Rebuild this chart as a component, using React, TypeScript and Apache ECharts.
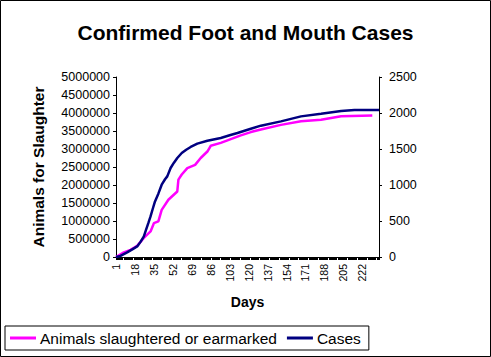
import React, { useEffect, useRef } from "react";
import * as echarts from "echarts";

const TITLE = "Confirmed Foot and Mouth Cases";
const LAST_DAY = 237;
const dayCategories: string[] = [];
for (let d = 1; d <= LAST_DAY; d++) dayCategories.push(String(d));

// Animals slaughtered or earmarked (left axis) – [day, value]
const animalDays = [1, 8, 14, 20, 26, 32, 35, 39, 42, 48, 56, 57, 60, 65, 72, 77, 83, 86, 95, 107, 113, 122, 131, 149, 167, 185, 203, 231];
const animalValues = [0, 130000, 200000, 310000, 530000, 710000, 940000, 990000, 1310000, 1590000, 1820000, 2150000, 2290000, 2470000, 2560000, 2750000, 2930000, 3090000, 3170000, 3310000, 3380000, 3470000, 3540000, 3670000, 3770000, 3810000, 3910000, 3930000];

// Confirmed cases (right axis) – [day, value]
const caseDays = [1, 5, 11, 16, 20, 23, 26, 28, 30, 32, 34, 36, 39, 42, 45, 47, 50, 53, 56, 60, 64, 68, 74, 83, 95, 103, 110, 122, 131, 149, 167, 185, 203, 215, 237];
const caseValues = [0, 15, 64, 110, 147, 210, 286, 379, 470, 564, 670, 772, 880, 1004, 1080, 1120, 1236, 1310, 1375, 1444, 1490, 1528, 1574, 1615, 1653, 1690, 1722, 1782, 1824, 1884, 1953, 1990, 2028, 2042, 2042];

const FONT = "'Liberation Sans', Arial, sans-serif";

export default function App() {
  const ref = useRef<HTMLDivElement>(null);
  useEffect(() => {
    if (!ref.current) return;
    const chart = echarts.init(ref.current, undefined, { renderer: "svg" });
    const axisLine = { show: true, lineStyle: { color: "#000", width: 1 } };
    const plain = (v: number) => String(v);
    chart.setOption({
      animation: false,
      backgroundColor: "#fff",
      textStyle: { fontFamily: FONT },
      title: {
        text: TITLE,
        left: "center",
        top: 17,
        textStyle: { fontFamily: FONT, fontSize: 21, fontWeight: "bold", color: "#000" },
      },
      graphic: [
        {
          type: "rect",
          shape: { x: 0.5, y: 0.5, width: 490, height: 356 },
          style: { fill: "none", stroke: "#000", lineWidth: 1 },
          silent: true,
        },
      ],
      legend: {
        left: 5,
        top: 326,
        orient: "horizontal",
        padding: [4, 8, 4, 5],
        borderColor: "#000",
        borderWidth: 1,
        borderRadius: 0,
        itemWidth: 26,
        itemHeight: 3,
        itemGap: 10,
        icon: "rect",
        textStyle: { fontFamily: FONT, fontSize: 15.5, color: "#000", padding: [0, 0, 0, -1] },
        data: ["Animals slaughtered or earmarked", "Cases"],
      },
      grid: { left: 116, top: 77, width: 263, height: 180, containLabel: false },
      xAxis: {
        type: "category",
        data: dayCategories,
        boundaryGap: false,
        name: "Days",
        nameLocation: "middle",
        nameGap: 38,
        nameTextStyle: { fontFamily: FONT, fontSize: 14, fontWeight: "bold", color: "#000" },
        axisLine,
        axisTick: { show: true, interval: 0, length: 3, lineStyle: { color: "#000" } },
        axisLabel: {
          interval: 16,
          rotate: 90,
          margin: 7,
          fontFamily: FONT,
          fontSize: 10.5,
          color: "#000",
        },
        splitLine: { show: false },
      },
      yAxis: [
        {
          type: "value",
          min: 0,
          max: 5000000,
          interval: 500000,
          position: "left",
          name: "Animals for Slaughter",
          nameLocation: "middle",
          nameGap: 70,
          nameTextStyle: { fontFamily: FONT, fontSize: 15.5, fontWeight: "bold", color: "#000" },
          axisLine,
          axisTick: { show: true, length: 3, lineStyle: { color: "#000" } },
          axisLabel: { margin: 6, fontFamily: FONT, fontSize: 12.5, color: "#000", formatter: plain },
          splitLine: { show: false },
        },
        {
          type: "value",
          min: 0,
          max: 2500,
          interval: 500,
          position: "right",
          axisLine,
          axisTick: { show: true, length: 3, lineStyle: { color: "#000" } },
          axisLabel: { margin: 10, fontFamily: FONT, fontSize: 12.5, color: "#000", formatter: plain },
          splitLine: { show: false },
        },
      ],
      series: [
        {
          name: "Animals slaughtered or earmarked",
          type: "line",
          yAxisIndex: 0,
          showSymbol: false,
          symbol: "none",
          color: "#FF00FF",
          lineStyle: { color: "#FF00FF", width: 2.5 },
          data: animalDays.map((d, i) => [d - 1, animalValues[i]]),
        },
        {
          name: "Cases",
          type: "line",
          yAxisIndex: 1,
          showSymbol: false,
          symbol: "none",
          color: "#000080",
          lineStyle: { color: "#000080", width: 2.5 },
          data: caseDays.map((d, i) => [d - 1, caseValues[i]]),
        },
      ],
    });
    return () => chart.dispose();
  }, []);
  return (
    <div
      ref={ref}
      style={{ position: "fixed", left: 0, top: 0, width: 491, height: 357, background: "#fff" }}
    />
  );
}
